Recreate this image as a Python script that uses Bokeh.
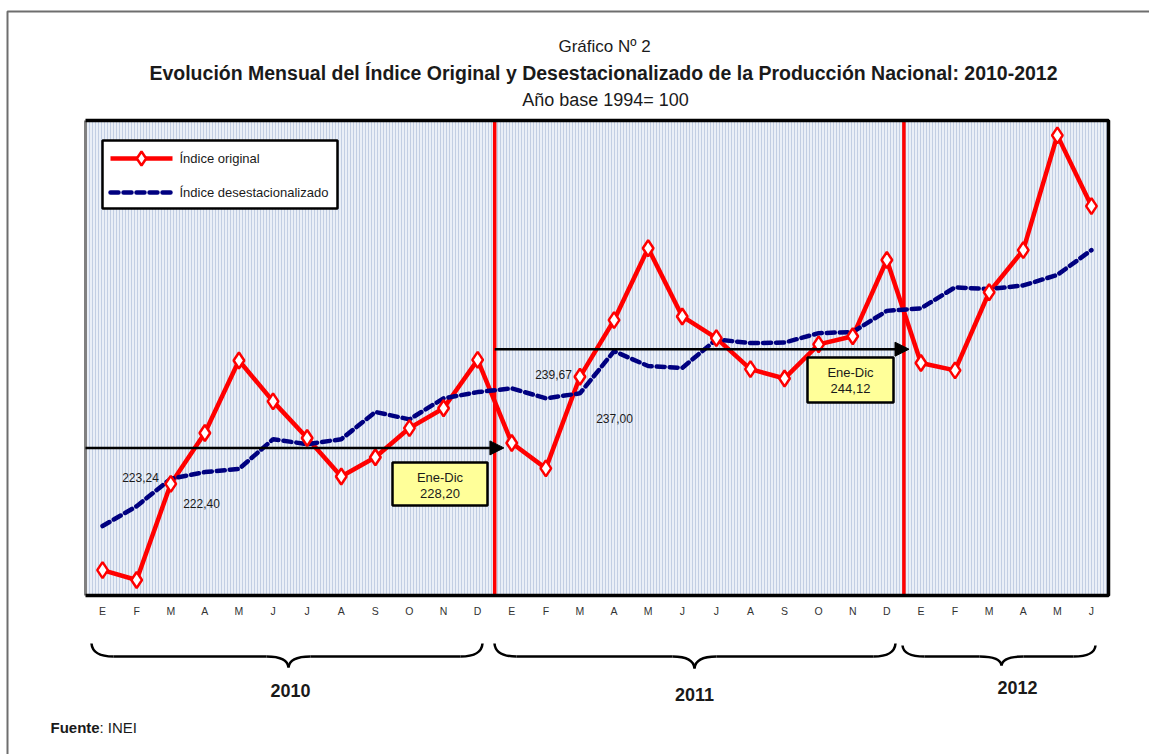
from bokeh.plotting import figure
from bokeh.models import Range1d, Arrow, NormalHead
from bokeh.core.properties import value
from bokeh.embed import file_html
from bokeh.resources import INLINE

# ---------------- data ----------------
months = ["E", "F", "M", "A", "M", "J", "J", "A", "S", "O", "N", "D",
          "E", "F", "M", "A", "M", "J", "J", "A", "S", "O", "N", "D",
          "E", "F", "M", "A", "M", "J"]
years = ["2010", "2011", "2012"]
original = [208.5, 206.9, 222.4, 230.6, 242.3, 235.7, 229.8, 223.6, 226.7, 231.4, 234.6, 242.4,
            229.0, 224.9, 239.67, 248.8, 260.4, 249.4, 245.9, 240.9, 239.4, 244.9, 246.2, 258.5,
            241.9, 240.7, 253.3, 260.1, 278.6, 267.2]
desest = [215.6, 218.8, 223.24, 224.3, 224.8, 229.6, 228.8, 229.6, 234.0, 232.8, 236.2, 237.2,
          237.8, 236.2, 237.0, 243.8, 241.4, 241.1, 245.7, 245.1, 245.2, 246.7, 246.9, 250.3,
          250.7, 254.1, 253.8, 254.4, 256.1, 260.1]
avg_values = [228.20, 244.12]
avg_labels = ["228,20", "244,12"]
point_labels = ["223,24", "222,40", "239,67", "237,00"]
legend_labels = ["Índice original", "Índice desestacionalizado"]

FONT = "Liberation Sans, Arial, sans-serif"

# ---------------- geometry helpers (reference pixel -> data) ----------------
YMIN, YMAX = 204.4, 281.0
FX0, FX1, FY0, FY1 = 85, 1108, 120, 595   # chart frame in page pixels
NX = len(months)
OFF = 0  # canvas offset on the page

def X(px):
    return (px - FX0) * NX / (FX1 - FX0)

def Y(py):
    return YMAX - (py - FY0) * (YMAX - YMIN) / (FY1 - FY0)

W, H = 1149, 754
p = figure(width=W, height=H, output_backend="svg", toolbar_location=None,
           x_range=Range1d(X(OFF), X(OFF + W)), y_range=Range1d(Y(OFF + H), Y(OFF)),
           x_axis_location=None, y_axis_location=None, min_border=0,
           outline_line_color=None, background_fill_color="white",
           border_fill_color="white")
p.grid.visible = False

def T(x, y, text, size="12px", bold=False, align="center", color="#1a1a1a"):
    p.text(x=[x], y=[y], text=[text], text_font=value(FONT), text_font_size=size,
           text_font_style="bold" if bold else "normal", text_align=align,
           text_baseline="middle", text_color=color)

# outer frame
p.line(x=[X(7), X(7), X(OFF + W)], y=[Y(OFF + H), Y(11), Y(11)], line_color="#6e6e6e", line_width=2)

# titles
T(X(604), Y(46), "Gráfico Nº 2", size="17px")
T(X(603), Y(72), "Evolución Mensual del Índice Original y Desestacionalizado de la Producción Nacional: 2010-2012",
  size="19.5px", bold=True)
T(X(605), Y(99), "Año base 1994= 100", size="18px")

# chart background
p.quad(left=[0], right=[NX], bottom=[YMIN], top=[YMAX], fill_color="#eaeff7",
       hatch_pattern="vertical_line", hatch_color="#c2cee3", hatch_scale=3, hatch_weight=1,
       line_color=None)

# year separators
p.segment(x0=[12, 24], y0=[YMIN, YMIN], x1=[12, 24], y1=[YMAX, YMAX], line_color="#ff0000", line_width=3.5)

xs = [i + 0.5 for i in range(NX)]
p.line(x=xs, y=original, line_color="#ff0000", line_width=4.5)
p.line(x=xs, y=desest, line_color="#000080", line_width=4.5, line_dash="8 5", line_cap="round")
p.scatter(x=xs, y=original, marker="diamond", size=16, fill_color="white", line_color="#ff0000", line_width=2.5)

# chart border
p.line(x=[0, 0], y=[YMIN, YMAX], line_color="#808080", line_width=3)
p.line(x=[0, NX, NX, 0], y=[YMAX, YMAX, YMIN, YMIN], line_color="black", line_width=3.5)

# average arrows
p.add_layout(Arrow(end=NormalHead(size=14, fill_color="black", line_color="black"),
                   x_start=0, y_start=avg_values[0], x_end=12.27, y_end=avg_values[0],
                   line_width=2.5, line_color="black"))
p.add_layout(Arrow(end=NormalHead(size=14, fill_color="black", line_color="black"),
                   x_start=12, y_start=avg_values[1], x_end=24.15, y_end=avg_values[1],
                   line_width=2.5, line_color="black"))

# average boxes
boxes = [(392, 487, 462, 505), (807, 893, 357, 402)]
for (l, r, t, b), lab in zip(boxes, avg_labels):
    p.quad(left=[X(l)], right=[X(r)], top=[Y(t)], bottom=[Y(b)], fill_color="#ffff99",
           line_color="black", line_width=2.5)
    cx = X((l + r) / 2)
    T(cx, Y(t + 15), "Ene-Dic", size="13px")
    T(cx, Y(t + 31), lab, size="13px")

# point value labels
for (px, py), lab in zip([(140, 477), (201, 503), (553, 374), (614, 418)], point_labels):
    T(X(px), Y(py), lab, size="12px")

# legend
p.quad(left=[X(102)], right=[X(337)], top=[Y(140)], bottom=[Y(208)], fill_color="white",
       line_color="black", line_width=2.5)
p.line(x=[X(110), X(172)], y=[Y(158), Y(158)], line_color="#ff0000", line_width=4.5)
p.scatter(x=[X(141)], y=[Y(158)], marker="diamond", size=14, fill_color="white",
          line_color="#ff0000", line_width=2.5)
p.line(x=[X(110), X(172)], y=[Y(192), Y(192)], line_color="#000080", line_width=4.5,
       line_dash="8 5", line_cap="round")
T(X(179), Y(158), legend_labels[0], size="13px", align="left")
T(X(179), Y(192), legend_labels[1], size="13px", align="left")

# month tick labels
p.text(x=xs, y=[Y(610)] * NX, text=months, text_font=value(FONT), text_font_size="10.5px",
       text_align="center", text_baseline="middle", text_color="#333333")

# braces
def brace(xa, xb, xm, ytop, yflat, ytip, r=22):
    x0 = [X(xa), X(xm), X(xm), X(xb)]
    y0 = [Y(ytop), Y(ytip), Y(ytip), Y(ytop)]
    x1 = [X(xa + r), X(xm - r), X(xm + r), X(xb - r)]
    y1 = [Y(yflat)] * 4
    cx = [X(xa + 1), X(xm - 1), X(xm + 1), X(xb - 1)]
    cy = [Y(yflat)] * 4
    p.quadratic(x0=x0, y0=y0, x1=x1, y1=y1, cx=cx, cy=cy, line_color="black", line_width=2.5)
    p.segment(x0=[X(xa + r), X(xm + r)], y0=[Y(yflat)] * 2, x1=[X(xm - r), X(xb - r)],
              y1=[Y(yflat)] * 2, line_color="black", line_width=2.5)

brace(91, 482, 288, 643, 656, 667)
brace(494, 895, 694, 643, 656, 668)
brace(902, 1095, 1001, 645, 656, 665)

for (px, py), yr in zip([(290, 690), (694, 694), (1017, 687)], years):
    T(X(px), Y(py), yr, size="18px", bold=True)

# source
T(X(50), Y(727), "Fuente", size="15px", bold=True, align="left")
T(X(99), Y(727), ": INEI", size="15px", align="left")

open("out.html", "w").write(file_html(p, INLINE))
